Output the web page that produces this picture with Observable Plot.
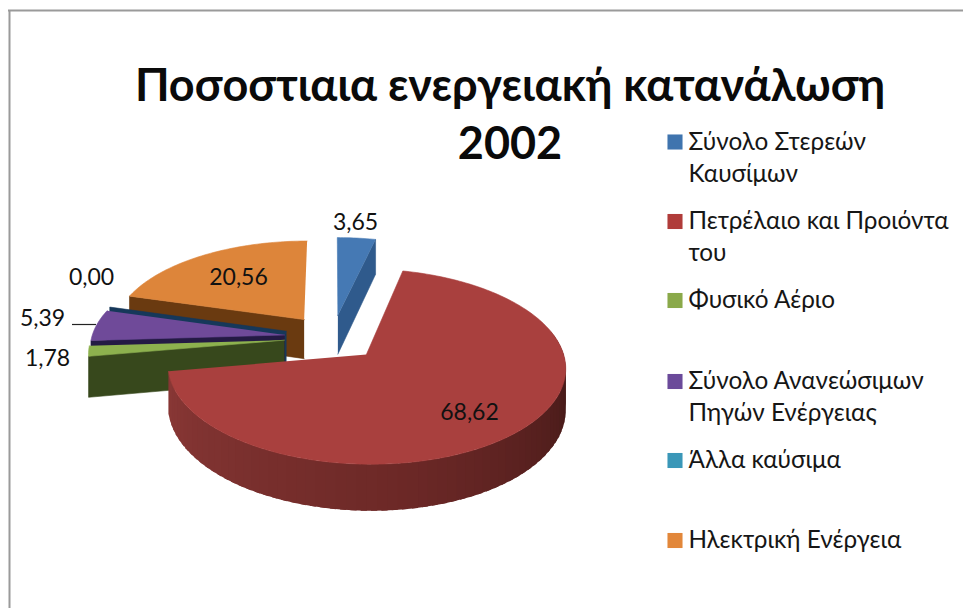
<!DOCTYPE html>
<html><head><meta charset="utf-8">
<script src="https://cdn.jsdelivr.net/npm/d3@7"></script>
<script src="https://cdn.jsdelivr.net/npm/@observablehq/plot@0.6"></script>
<style>html,body{margin:0;padding:0;background:#fff}</style>
</head><body><div id="chart"></div>
<script>
// ---- data
const categories = ["Σύνολο Στερεών\nΚαυσίμων","Πετρέλαιο και Προιόντα\nτου","Φυσικό Αέριο","Σύνολο Ανανεώσιμων\nΠηγών Ενέργειας","Άλλα καύσιμα","Ηλεκτρική Ενέργεια"];
const values = [3.65,68.62,1.78,5.39,0.00,20.56];
const titleLines = "Ποσοστιαια ενεργειακή κατανάλωση\n2002";

// ---- styles
const topColors = ["#4579b4","#a9403e","#8db14e","#6f4a99","#3a97b8","#dd853a"];
const legendColors = ["#3f74ae","#b03c3a","#8aa94a","#6b4a9a","#3a97b8","#e2873a"];
const cutColors = ["#2f5a8c","#5c2322","#37481c","#241a44","#16385a","#6a3a10"];
const legendY = [141.5,221,300,381,460,540];
const labelPos = [[355,222],[469,412],[47,358],[42,318],[91,277],[238,277]];
const FONT = "Lato, 'Open Sans', 'Noto Sans', sans-serif";

// ---- pie geometry (plane units -> picture units, oblique perspective)
const X0=332, Y0=337, RX=193, RY=92, K=0.12, THICK=40, EXPLODE=0.25;
const project=(u,v,drop=0)=>{const w=1-K*v;return [X0+RX*u/w, Y0+(RY*v+drop)/w];};
const total=d3.sum(values);
let acc=0;
const slices=values.map((v,i)=>{const a0=acc/total*2*Math.PI;acc+=v;const a1=acc/total*2*Math.PI;
  const mid=(a0+a1)/2;
  return {i,a0,a1,cu:EXPLODE*Math.sin(mid),cv:-EXPLODE*Math.cos(mid)};});
const rim=(s,a,drop=0)=>project(s.cu+Math.sin(a),s.cv-Math.cos(a),drop);
const apex=(s,drop=0)=>project(s.cu,s.cv,drop);
const arc=(s,a0=s.a0,a1=s.a1,drop=0)=>{const n=Math.max(2,Math.ceil((a1-a0)/0.02));return d3.range(n+1).map(j=>rim(s,a0+(a1-a0)*j/n,drop));};
const topFace=s=>[apex(s),...arc(s)];
const cutFace=(s,a)=>[apex(s),rim(s,a),rim(s,a,THICK),apex(s,THICK)];
const poly=(pts,color,sw=0.6)=>Plot.line(pts,{x:d=>d[0],y:d=>d[1],fill:color,stroke:color,strokeWidth:sw,curve:"linear"});

const [blue,red,green,purple,teal,orange]=slices;
const marks=[];
// frame: only the top and left edges show in the picture
marks.push(Plot.ruleY([10],{x1:8,x2:963,stroke:"#9a9a9a",strokeWidth:2}));
marks.push(Plot.ruleX([9],{y1:10,y2:608,stroke:"#9a9a9a",strokeWidth:2}));
// orange wedge
marks.push(poly(cutFace(orange,orange.a0),cutColors[5]),poly(topFace(orange),topColors[5]));
// teal (zero) wedge
marks.push(poly(cutFace(teal,teal.a0),cutColors[4]));
// purple wedge
marks.push(poly(cutFace(purple,purple.a0),cutColors[3]),poly(topFace(purple),topColors[3]));
// green wedge
marks.push(poly(cutFace(green,green.a0),cutColors[2]),poly(topFace(green),topColors[2]));
// blue wedge
marks.push(poly(cutFace(blue,blue.a1),cutColors[0]),poly(topFace(blue),topColors[0]));
// red wedge: outer wall in shaded strips
const wallFrom=Math.PI*0.42, wallTo=red.a1, strips=70;
const shade=d3.scaleLinear().domain([0,0.5,1]).range(["#3c1615","#6b2826","#8a3836"]);
d3.range(strips).forEach(j=>{
  const a=wallFrom+(wallTo-wallFrom)*j/strips, b=wallFrom+(wallTo-wallFrom)*(j+1.6)/strips;
  marks.push(poly([rim(red,a),rim(red,Math.min(b,wallTo)),rim(red,Math.min(b,wallTo),THICK),rim(red,a,THICK)],shade(j/strips),0));
});
marks.push(poly(topFace(red),topColors[1]));
// value labels
const labelData=slices.map(s=>({x:labelPos[s.i][0],y:labelPos[s.i][1],t:values[s.i].toFixed(2).replace(".",",")}));
marks.push(Plot.text(labelData,{x:"x",y:"y",text:"t",fontSize:23,fontFamily:FONT,fill:"#111"}));
marks.push(Plot.ruleY([324],{x1:72,x2:96,stroke:"#222",strokeWidth:1.2}));
// title
marks.push(Plot.text([titleLines],{x:509.5,y:114,dy:-3,text:d=>d,fontSize:45,lineHeight:1.29,fontWeight:700,fontFamily:FONT,fill:"#0a0a0a"}));
// legend
const legend=categories.map((c,i)=>({c,y:legendY[i],col:legendColors[i]}));
marks.push(Plot.dot(legend,{x:()=>674.5,y:"y",symbol:"square",r:8.5,fill:"col",stroke:null}));
marks.push(Plot.text(legend,{x:()=>688,y:"y",text:"c",textAnchor:"start",lineAnchor:"top",dy:-15,fontSize:24.3,lineHeight:1.32,fontFamily:FONT,fill:"#161616"}));

const chart=Plot.plot({width:963,height:608,margin:0,
  x:{domain:[0,963],range:[0,963],axis:null},
  y:{domain:[0,608],range:[0,608],axis:null},
  color:{type:"identity"},marks});
document.getElementById("chart").append(chart);
</script></body></html>
